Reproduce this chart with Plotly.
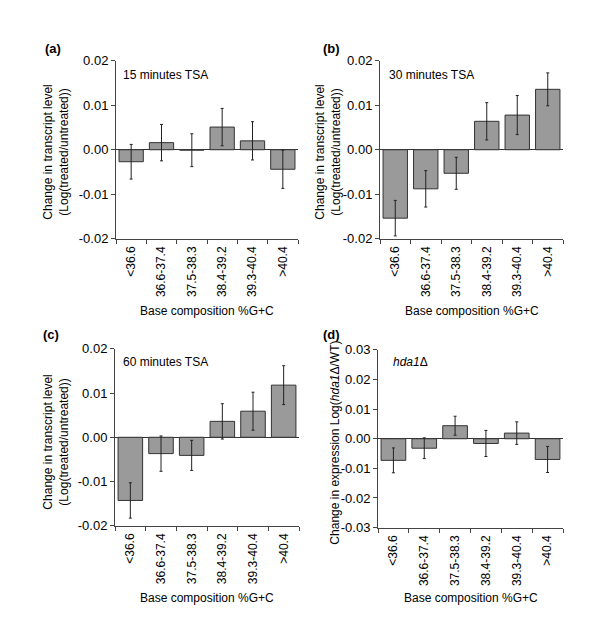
import plotly.graph_objects as go

categories = ["<36.6", "36.6-37.4", "37.5-38.3", "38.4-39.2", "39.3-40.4", ">40.4"]

a_vals = [-0.0027, 0.0016, -0.0001, 0.0051, 0.0020, -0.0044]
a_err = [0.0039, 0.0041, 0.0037, 0.0042, 0.0043, 0.0043]
b_vals = [-0.0154, -0.0088, -0.0053, 0.0064, 0.0078, 0.0136]
b_err = [0.0040, 0.0041, 0.0036, 0.0042, 0.0044, 0.0037]
c_vals = [-0.0143, -0.0037, -0.0041, 0.0036, 0.0059, 0.0118]
c_err = [0.0040, 0.0040, 0.0034, 0.0040, 0.0043, 0.0044]
d_vals = [-0.0073, -0.0032, 0.0044, -0.0016, 0.0019, -0.0070]
d_err = [0.0042, 0.0035, 0.0032, 0.0044, 0.0038, 0.0044]

ytick_vals_abc = [-0.02, -0.01, 0.0, 0.01, 0.02]
ytick_text_abc = ["-0.02", "-0.01", "0.00", "0.01", "0.02"]
ytick_vals_d = [-0.03, -0.02, -0.01, 0.0, 0.01, 0.02, 0.03]
ytick_text_d = ["-0.03", "-0.02", "-0.01", "0.00", "0.01", "0.02", "0.03"]

panel_letters = ["(a)", "(b)", "(c)", "(d)"]
panel_notes = ["15 minutes TSA", "30 minutes TSA", "60 minutes TSA", "<i>hda1</i>Δ"]
xtitle = "Base composition %G+C"
ytitle_tsa = "Change in transcript level<br>(Log(treated/untreated))"
ytitle_d = "Change in expression Log(<i>hda1</i>Δ/WT)"

FONT = "Liberation Sans, Arial, sans-serif"
W, H = 600, 634

def px(x):
    return x / W

def py(y):
    return 1 - y / H

# plot areas in pixel coordinates: (x0, x1, ytop, ybottom)
areas = [(108, 290, 47, 229), (372, 555, 47, 229), (107, 291, 342, 523), (370, 555, 343, 525)]

fig = go.Figure()
series = [(a_vals, a_err), (b_vals, b_err), (c_vals, c_err), (d_vals, d_err)]
for i, (vals, errs) in enumerate(series):
    sfx = "" if i == 0 else str(i + 1)
    fig.add_trace(go.Bar(
        x=categories, y=vals,
        xaxis="x" + sfx, yaxis="y" + sfx,
        width=0.8,
        marker=dict(color="#9a9a9a", line=dict(color="#333333", width=1)),
        error_y=dict(type="data", array=errs, visible=True, color="#222222", thickness=1, width=1.5),
        showlegend=False,
    ))

layout = dict(
    width=W, height=H,
    margin=dict(l=0, r=0, t=0, b=0),
    paper_bgcolor="white", plot_bgcolor="white",
    font=dict(family=FONT, size=12, color="black"),
    bargap=0.2,
)

annotations = []
for i, (x0, x1, yt, yb) in enumerate(areas):
    sfx = "" if i == 0 else str(i + 1)
    if i == 3:
        tv, tt, rng = ytick_vals_d, ytick_text_d, [-0.03, 0.03]
    else:
        tv, tt, rng = ytick_vals_abc, ytick_text_abc, [-0.02, 0.02]
    layout["xaxis" + sfx] = dict(
        domain=[px(x0), px(x1)], anchor="y" + sfx, type="category",
        range=[-0.5, 5.5], showline=True, linecolor="#444444", linewidth=1,
        ticks="outside", tickson="boundaries", ticklen=4, tickcolor="#444444",
        tickangle=-90, tickfont=dict(size=12, family=FONT, color="black"),
        ticklabelstandoff=2,
        showgrid=False, zeroline=False,
    )
    layout["yaxis" + sfx] = dict(
        domain=[py(yb), py(yt)], anchor="x" + sfx, range=rng,
        tickvals=tv, ticktext=tt,
        showline=True, linecolor="#444444", linewidth=1,
        ticks="outside", ticklen=4, tickcolor="#444444",
        tickfont=dict(size=13, family=FONT, color="black"),
        showgrid=False, zeroline=True, zerolinecolor="#333333", zerolinewidth=1,
    )
    xc = (x0 + x1) / 2
    # x title
    annotations.append(dict(text=xtitle, x=px(xc), y=py(303 if i < 2 else 597),
                            xref="paper", yref="paper", showarrow=False,
                            xanchor="center", yanchor="middle", font=dict(size=12)))
    # y title
    ytc = 141 if i < 2 else 438
    ytx = [48, 320, 48, 327][i]
    annotations.append(dict(text=ytitle_d if i == 3 else ytitle_tsa,
                            x=px(ytx), y=py(ytc), xref="paper", yref="paper",
                            showarrow=False, textangle=-90, xanchor="center", yanchor="middle",
                            font=dict(size=12)))
    # panel letter
    lx = [35, 313, 33, 313][i]
    ly = [34, 34, 327, 327][i]
    annotations.append(dict(text="<b>" + panel_letters[i] + "</b>", x=px(lx), y=py(ly),
                            xref="paper", yref="paper", showarrow=False,
                            xanchor="left", yanchor="middle", font=dict(size=13)))
    # in-panel note
    nx = [113, 379, 113, 383][i]
    ny = [61, 61, 355, 355][i]
    annotations.append(dict(text=panel_notes[i], x=px(nx), y=py(ny),
                            xref="paper", yref="paper", showarrow=False,
                            xanchor="left", yanchor="middle", font=dict(size=12)))

layout["annotations"] = annotations
fig.update_layout(**layout)
fig.write_html("out.html")
